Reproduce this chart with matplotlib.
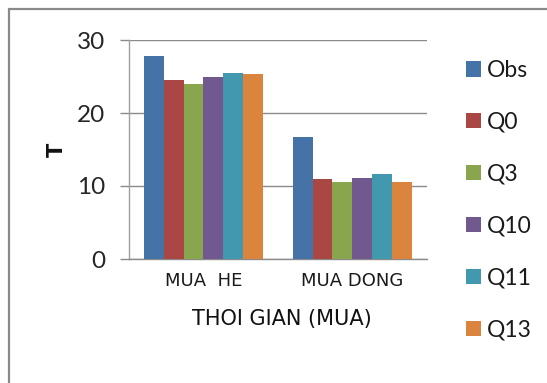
import matplotlib
matplotlib.use("Agg")
import matplotlib.pyplot as plt
import numpy as np
from matplotlib.patches import Rectangle

# Seasons on the x axis and the series shown for each one
seasons = ["MUA  HE", "MUA DONG"]
series = ["Obs", "Q0", "Q3", "Q10", "Q11", "Q13"]
obs = [27.8, 16.75]
q0 = [24.55, 10.9]
q3 = [24.0, 10.55]
q10 = [24.9, 11.1]
q11 = [25.5, 11.65]
q13 = [25.3, 10.5]
values = [obs, q0, q3, q10, q11, q13]
colors = ["#4572A7", "#AA4643", "#89A54E", "#71588F", "#4198AF", "#DB843D"]
yticks = [0, 10, 20, 30]

W, H = 547, 383
fig = plt.figure(figsize=(W / 100, H / 100), dpi=100)
fig.patch.set_facecolor("white")

# chart-area border (only left and top edges fall inside the image)
fig.add_artist(Rectangle((9 / W, -0.2), 2.0, 1.2 - 8.5 / H, transform=fig.transFigure,
                         fill=False, edgecolor="#8a8a8a", linewidth=1.6))

ax = fig.add_axes([129 / W, (H - 259) / H, (426.7 - 129) / W, (259 - 40) / H])

x = np.arange(len(seasons))
group = 0.8
bw = group / len(series)
for i, (name, vals, c) in enumerate(zip(series, values, colors)):
    ax.bar(x - group / 2 + bw * (i + 0.5), vals, width=bw, color=c, label=name,
           edgecolor="none", zorder=3)

ax.set_xlim(-0.5, len(seasons) - 0.5)
ax.set_ylim(0, 30)
ax.set_yticks(yticks)
ax.yaxis.grid(True, color="#8a8a8a", linewidth=1.0, zorder=0)
ax.set_axisbelow(True)

for s in ["top", "right"]:
    ax.spines[s].set_visible(False)
ax.spines["left"].set_color("#a0a0a0")
ax.spines["left"].set_linewidth(1.0)
ax.spines["bottom"].set_color("#8a8a8a")
ax.spines["bottom"].set_linewidth(1.0)

ax.tick_params(axis="y", length=6.5, width=1.0, color="#8a8a8a", pad=10.5,
               labelsize=17.5, labelcolor="#262626")
for t in ax.get_yticklabels():
    t.set_fontfamily("Lato")

ax.set_xticks(x)
ax.set_xticklabels(seasons, fontfamily="DejaVu Sans", fontsize=13, color="#1a1a1a")
ax.tick_params(axis="x", length=0, pad=9.5)

ax.set_xlabel("THOI GIAN (MUA)", fontfamily="DejaVu Sans", fontsize=15, color="#111111")
ax.xaxis.set_label_coords((281.7 - 129) / (426.7 - 129), (259 - 309) / 219)

ax.set_ylabel("T", fontfamily="DejaVu Sans", fontweight="bold", fontsize=15,
              color="#111111", va="center")
ax.yaxis.set_label_coords((56.7 - 129) / (426.7 - 129), (259 - 150) / 219)

leg = fig.legend(loc="upper left", bbox_to_anchor=(466 / W, 1 - 60 / H),
                 frameon=False, prop={"family": "Lato", "size": 16.5},
                 handlelength=0.64, handleheight=0.64, handletextpad=0.28,
                 labelspacing=1.35, borderpad=0, borderaxespad=0)
for t in leg.get_texts():
    t.set_color("#1a1a1a")

fig.savefig("out.png", dpi=100, facecolor="white")
